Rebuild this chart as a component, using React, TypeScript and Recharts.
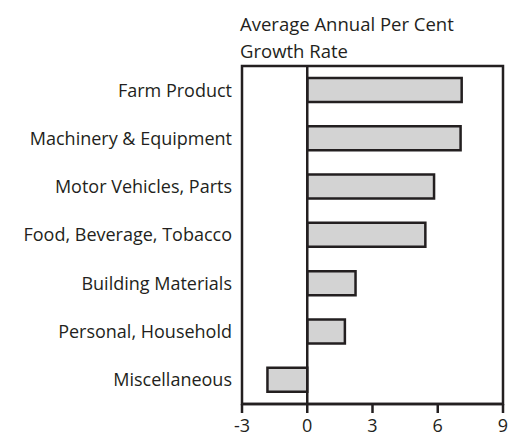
import { BarChart, Bar, XAxis, YAxis, ReferenceLine, ReferenceArea } from "recharts";

const categories = [
  "Farm Product",
  "Machinery & Equipment",
  "Motor Vehicles, Parts",
  "Food, Beverage, Tobacco",
  "Building Materials",
  "Personal, Household",
  "Miscellaneous",
];
const growth = [7.1, 7.05, 5.83, 5.43, 2.22, 1.73, -1.83];
const xTicks = [-3, 0, 3, 6, 9];

const data = categories.map((name, i) => ({ name, value: growth[i] }));

const font = "'Open Sans', sans-serif";
const ink = "#231f20";

export default function App() {
  return (
    <div style={{ position: "absolute", left: 0, top: 0, width: 511, height: 440, background: "#fff", fontFamily: font, color: ink, overflow: "hidden" }}>
      <div style={{ position: "absolute", left: 240, top: 10, fontSize: 18.5, lineHeight: "27px" }}>
        Average Annual Per Cent
        <br />
        Growth Rate
      </div>
      <BarChart
        width={511}
        height={440}
        data={data}
        layout="vertical"
        margin={{ top: 66, right: 8, bottom: 6, left: 0 }}
        barSize={24}
        style={{ overflow: "hidden" }}
      >
        <XAxis
          type="number"
          domain={[-3, 9]}
          ticks={xTicks}
          interval={0}
          height={30}
          axisLine={{ stroke: ink, strokeWidth: 2.5 }}
          tickLine={{ stroke: ink, strokeWidth: 2.5 }}
          tickSize={9}
          tickMargin={6}
          tick={{ fill: ink, fontSize: 18, fontFamily: font }}
        />
        <YAxis
          type="category"
          dataKey="name"
          width={242}
          axisLine={false}
          tickLine={false}
          tickMargin={4}
          interval={0}
          tick={{ fill: ink, fontSize: 18, fontFamily: font }}
        />
        <ReferenceArea x1={-3} x2={9} fill="none" stroke={ink} strokeWidth={2.5} ifOverflow="extendDomain" />
        <ReferenceLine x={0} stroke={ink} strokeWidth={2.5} />
        <Bar dataKey="value" fill="#d3d3d3" stroke={ink} strokeWidth={2.5} isAnimationActive={false} />
      </BarChart>
    </div>
  );
}
